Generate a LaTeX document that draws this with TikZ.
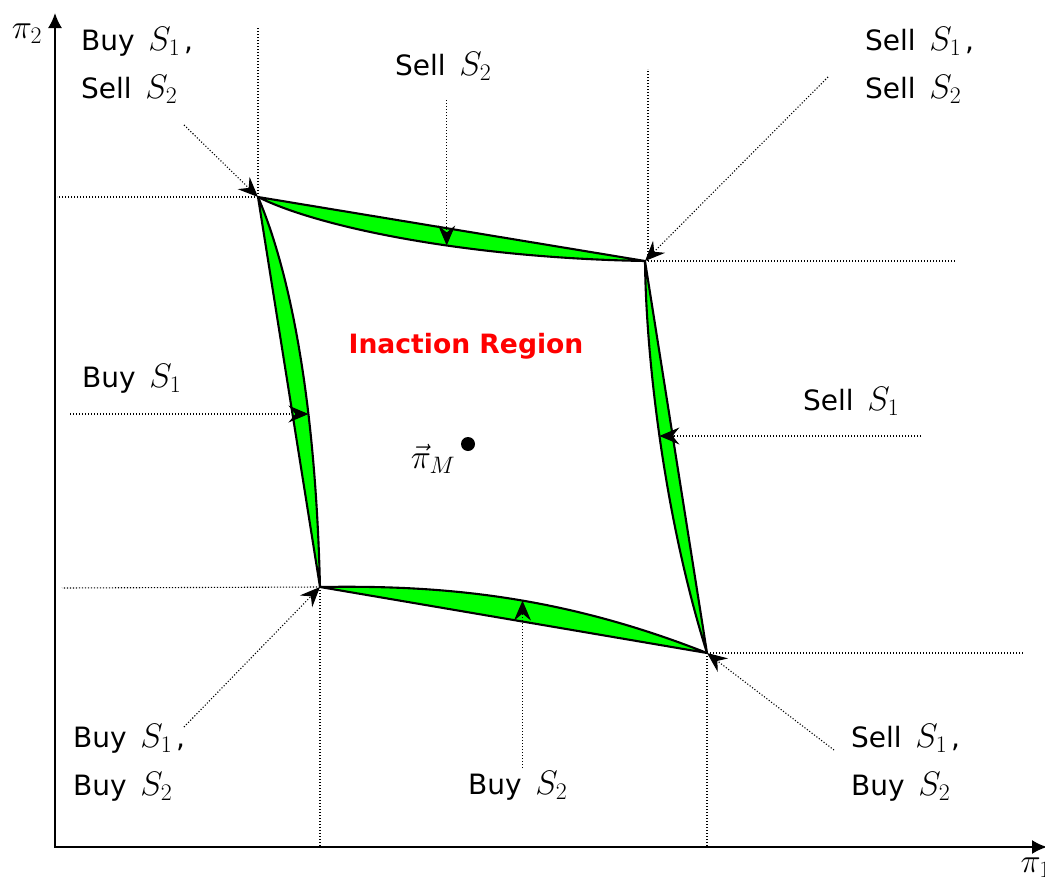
\RequirePackage{fix-cm}
\documentclass[tikz,border=0pt]{standalone}
\usepackage{fontspec}
\setmainfont{DejaVu Sans}
\usepackage{tikz}
\usetikzlibrary{arrows.meta,calc}
\definecolor{lensgreen}{RGB}{0,255,0}
\definecolor{regionred}{RGB}{255,0,0}
\newcommand{\mS}[1]{{\fontsize{34}{48}\selectfont$S_{#1}$}}
\newcommand{\mbig}[1]{{\fontsize{34}{48}\selectfont$#1$}}

\begin{document}
\begin{tikzpicture}[x=1pt,y=-1pt,
  axis/.style={line width=1.8pt,{Latex[length=15pt,width=14pt]}-{Latex[length=15pt,width=14pt]}},
  guide/.style={line width=1.1pt,dash pattern=on 1.1pt off 1.9pt},
  move/.style={guide,-{Stealth[length=20pt,width=17pt,inset=7pt,line width=1pt]}},
  lens/.style={line width=2.1pt,line join=round,fill=lensgreen},
  lbl/.style={font=\fontsize{28}{48}\selectfont,inner sep=0pt,align=left,anchor=north west}]
\useasboundingbox (0,0) rectangle (1045,881);
\coordinate (o) at (55,847);
\coordinate (ytop) at (55,13);
\coordinate (xend) at (1047,847);
\draw[axis] (ytop) -- (o) -- (xend);
\node (p2) at (27,34) {\mbig{\pi_2}};
\node[anchor=west] (p1) at (1017,868) {\mbig{\pi_1}};
\coordinate (tl) at (258,197);
\coordinate (tr) at (645,261);
\coordinate (bl) at (320,587);
\coordinate (br) at (707,653);
\coordinate (tlup) at (258,28);
\coordinate (tlleft) at (57,197);
\coordinate (trup) at (648,69);
\coordinate (trright) at (955,261);
\coordinate (blleft) at (62,588);
\coordinate (bldown) at (320,846);
\coordinate (brdown) at (707,846);
\coordinate (brright) at (1023,653);
\draw[guide] (tl) -- (tlup);
\draw[guide] (tl) -- (tlleft);
\draw[guide] (trup |- tr) -- (trup);
\draw[guide] (tr) -- (trright);
\draw[guide] (bl) -- (blleft);
\draw[guide] (bl) -- (bldown);
\draw[guide] (br) -- (brdown);
\draw[guide] (br) -- (brright);
\filldraw[lens] (tl) -- (tr) .. controls (470,258) and (320,228) .. cycle;
\filldraw[lens] (tl) -- (bl) .. controls (315,380) and (285,260) .. cycle;
\filldraw[lens] (tr) -- (br) .. controls (665,520) and (646,360) .. cycle;
\filldraw[lens] (bl) -- (br) .. controls (560,595) and (440,585) .. cycle;
\path (tl) .. controls (320,228) and (470,258) .. (tr) coordinate[pos=.59] (ttip);
\path (tl) .. controls (285,260) and (315,380) .. (bl) coordinate[pos=.68] (ltip);
\path (tr) .. controls (646,360) and (665,520) .. (br) coordinate[pos=.48] (rtip);
\path (bl) .. controls (440,585) and (560,595) .. (br) coordinate[pos=.55] (btip);
\coordinate (tfrom) at (ttip |- 0,100);
\coordinate (lfrom) at (ltip -| 70,0);
\coordinate (rfrom) at (rtip -| 921,0);
\coordinate (bfrom) at (btip |- 0,768);
\coordinate (tlfrom) at (184,125);
\coordinate (trfrom) at (828,77);
\coordinate (blfrom) at (184,727);
\coordinate (brfrom) at (834,750);
\draw[move] (tfrom) -- (ttip);
\draw[move] (lfrom) -- (ltip);
\draw[move] (rfrom) -- (rtip);
\draw[move] (bfrom) -- (btip);
\draw[move] (tlfrom) -- (tl);
\draw[move] (trfrom) -- (tr);
\draw[move] (blfrom) -- (bl);
\draw[move] (brfrom) -- (br);
\node[lbl] (buysell) at (81,27) {Buy~\,\mS{1}\hspace{4pt},\\Sell~\,\mS{2}};
\node[lbl] (sell2) at (395,52) {Sell~\,\mS{2}};
\node[lbl] (sellsell) at (865,27) {Sell~\,\mS{1}\hspace{4pt},\\Sell~\,\mS{2}};
\node[lbl] (buy1) at (82,364) {Buy~\,\mS{1}};
\node[lbl] (sell1) at (803,387) {Sell~\,\mS{1}};
\node[lbl] (buybuy) at (73,724) {Buy~\,\mS{1}\hspace{4pt},\\Buy~\,\mS{2}};
\node[lbl] (buy2) at (468,771) {Buy~\,\mS{2}};
\node[lbl] (sellbuy) at (851,724) {Sell~\,\mS{1}\hspace{4pt},\\Buy~\,\mS{2}};
\node[font=\bfseries\fontsize{26.6}{30}\selectfont,text=regionred] (inaction) at (466,346) {Inaction Region};
\node[circle,fill,inner sep=0pt,minimum size=14pt] (pm) at (468,444) {};
\node (pmlab) at (433,459) {\mbig{\vec{\pi}_M}};
\end{tikzpicture}
\end{document}
